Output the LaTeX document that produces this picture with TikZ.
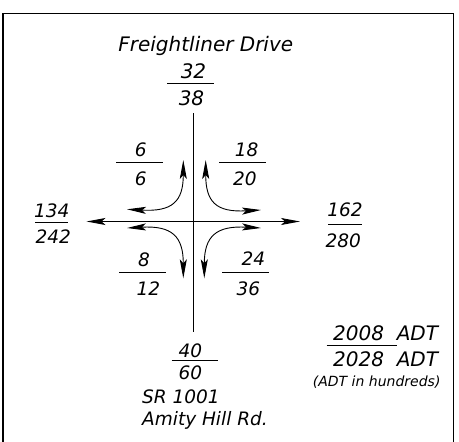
\documentclass[tikz,border=0pt]{standalone}
\usepackage{fontspec}
\setmainfont{DejaVu Sans}
\usetikzlibrary{arrows.meta}
\begin{document}
\begin{tikzpicture}[x=1pt,y=-1pt,
  numtxt/.style={font=\itshape\fontsize{18.5}{18.5}\selectfont, inner sep=0pt},
  bignumtxt/.style={font=\itshape\fontsize{20}{20}\selectfont, inner sep=0pt},
  roadname/.style={font=\itshape\fontsize{20}{20}\selectfont, inner sep=0pt, anchor=base},
  srname/.style={font=\itshape\fontsize{18.5}{18.5}\selectfont, inner sep=0pt, anchor=base west},
  notetxt/.style={font=\itshape\fontsize{14}{14}\selectfont, inner sep=0pt, anchor=base},
  fracbar/.style={line width=0.9pt},
  roadline/.style={line width=0.9pt},
  boxframe/.style={line width=1.4pt},
  dblarrow/.style={{Stealth[length=19pt,width=7pt,inset=4pt]}-{Stealth[length=19pt,width=7pt,inset=4pt]}, line width=0.9pt}
]
\useasboundingbox (0,0) rectangle (459,442);
% frame
\coordinate (f1) at (3,446);
\coordinate (f2) at (3,13.3);
\coordinate (f3) at (453.3,13.3);
\coordinate (f4) at (453.3,446);
\draw[boxframe] (f1) -- (f2) -- (f3) -- (f4);

% roads
\coordinate (vt) at (193.3,113);
\coordinate (vb) at (193.3,332);
\coordinate (hl) at (86.5,221.5);
\coordinate (hr) at (300,221.5);
\draw[roadline] (vt) -- (vb);
\draw[dblarrow] (hl) -- (hr);

% turning movements
\coordinate (nwL) at (127,209.3);
\coordinate (nwU) at (183.3,160);
\coordinate (neU) at (205.7,160);
\coordinate (neR) at (261,210);
\coordinate (swL) at (127,228);
\coordinate (swD) at (183.3,278.3);
\coordinate (seR) at (261,228);
\coordinate (seD) at (204.3,278.3);
\draw[dblarrow] (nwL) .. controls +(45,2.5) and +(0,42) .. (nwU);
\draw[dblarrow] (neR) .. controls +(-45,2.5) and +(0,42) .. (neU);
\draw[dblarrow] (swL) .. controls +(45,-2.5) and +(0,-42) .. (swD);
\draw[dblarrow] (seR) .. controls +(-45,-2.5) and +(0,-42) .. (seD);

% road names
\node[roadname] (fd) at (205.8,51) {Freightliner Drive};
\node[srname] (sr) at (142,403) {SR 1001};
\node[srname] (am) at (142,425.5) {Amity Hill Rd.};

% north volumes
\node[bignumtxt] (n1) at (193.5,71.5) {32};
\node[bignumtxt] (n2) at (191.5,98.3) {38};
\coordinate (nb1) at (167,83.3);
\coordinate (nb2) at (214,83.3);
\draw[fracbar] (nb1) -- (nb2);

% NW
\node[numtxt] (a1) at (140.7,150) {6};
\node[numtxt] (a2) at (140.7,179) {6};
\coordinate (ab1) at (116,162.3);
\coordinate (ab2) at (162.7,162.3);
\draw[fracbar] (ab1) -- (ab2);

% NE
\node[numtxt] (b1) at (246.7,150) {18};
\node[numtxt] (b2) at (245,179) {20};
\coordinate (bb1) at (219,162.3);
\coordinate (bb2) at (265.7,162.3);
\draw[fracbar] (bb1) -- (bb2);

% West
\node[numtxt] (w1) at (51.7,210.7) {134};
\node[numtxt] (w2) at (53.3,236.7) {242};
\coordinate (wb1) at (35,222.7);
\coordinate (wb2) at (68.3,222.7);
\draw[fracbar] (wb1) -- (wb2);

% East
\node[numtxt] (e1) at (345,210) {162};
\node[numtxt] (e2) at (343.3,240.7) {280};
\coordinate (eb1) at (328.3,224);
\coordinate (eb2) at (361.7,224);
\draw[fracbar] (eb1) -- (eb2);

% SW
\node[numtxt] (c1) at (144,260) {8};
\node[numtxt] (c2) at (148.3,288.3) {12};
\coordinate (cb1) at (119.3,272.3);
\coordinate (cb2) at (165.7,272.3);
\draw[fracbar] (cb1) -- (cb2);

% SE
\node[numtxt] (d1) at (253.3,258.5) {24};
\node[numtxt] (d2) at (248.3,288.3) {36};
\coordinate (db1) at (222.3,272.3);
\coordinate (db2) at (269,272.3);
\draw[fracbar] (db1) -- (db2);

% South
\node[numtxt] (s1) at (190.5,350.5) {40};
\node[numtxt] (s2) at (190.5,373) {60};
\coordinate (sb1) at (171.7,360);
\coordinate (sb2) at (218.3,360);
\draw[fracbar] (sb1) -- (sb2);

% legend
\node[roadname, anchor=base west] (l1) at (333,340.7) {2008\ \ ADT};
\node[roadname, anchor=base west] (l2) at (333,366.7) {2028\ \ ADT};
\coordinate (lb1) at (326.7,345.7);
\coordinate (lb2) at (396.7,345.7);
\draw[fracbar] (lb1) -- (lb2);
\node[notetxt] (l3) at (376.7,386) {(ADT in hundreds)};
\end{tikzpicture}
\end{document}
